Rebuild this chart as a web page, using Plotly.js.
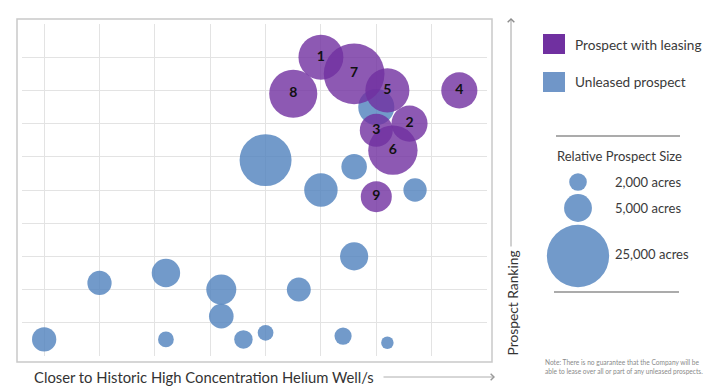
<!DOCTYPE html>
<html><head><meta charset="utf-8">
<script src="https://cdn.plot.ly/plotly-3.0.1.min.js"></script>
<style>html,body{margin:0;padding:0;background:#fff;}#chart{width:717px;height:391px;}</style>
</head><body><div id="chart"></div>
<script>
// ---- data ----
const leasedLabels = ['1','2','3','4','5','6','7','8','9'];
const leasedX = [5.0, 6.6, 6.0, 7.5, 6.2, 6.3, 5.6, 4.5, 6.0];
const leasedY = [9.0, 7.0, 6.8, 8.0, 8.0, 6.2, 8.5, 7.9, 4.8];
const leasedAcres = [13000, 8400, 7000, 8400, 12500, 15700, 23700, 14900, 6200];
const unleasedX = [6.0, 4.0, 5.6, 5.0, 6.7, 5.6, 1.0, 2.2, 3.2, 4.6, 3.2, 0.0, 2.2, 3.6, 4.0, 5.4, 6.2];
const unleasedY = [7.5, 5.9, 5.7, 5.0, 5.0, 3.0, 2.2, 2.5, 2.0, 2.0, 1.2, 0.5, 0.5, 0.5, 0.7, 0.6, 0.4];
const unleasedAcres = [8400, 17400, 4200, 7200, 3500, 5100, 3800, 5200, 5800, 3700, 3900, 3800, 1600, 2200, 1600, 1900, 1000];
const sizeKeyAcres = [2000, 5000, 25000];
const sizeKeyLabels = ['2,000 acres', '5,000 acres', '25,000 acres'];
const legendNames = ['Prospect with leasing', 'Unleased prospect'];
const xTitle = 'Closer to Historic High Concentration Helium Well/s';
const yTitle = 'Prospect Ranking';
const sizeTitle = 'Relative Prospect Size';
const noteText = 'Note: There is no guarantee that the Company will be<br>able to lease over all or part of any unleased prospects.';

// ---- styling ----
const PURPLE = 'rgba(112,48,160,0.8)';
const PURPLE_SOLID = '#7030A0';
const BLUE = 'rgba(79,129,189,0.8)';
const K = 0.197; // px radius per sqrt(acre)
const diam = a => 2 * K * Math.sqrt(a);
const FONT = 'Lato, "Open Sans", sans-serif';
const TXT = '#3a3a3a';

// pixel -> paper helpers (plot area: x 22..487, y 24..356)
const PL = 22, PR = 487, PT = 24, PB = 356;
const px = v => (v - PL) / (PR - PL);
const py = v => (PB - v) / (PB - PT);

const traces = [
  {type: 'scatter', mode: 'markers', x: unleasedX, y: unleasedY, name: legendNames[1],
   marker: {size: unleasedAcres.map(diam), sizemode: 'diameter', color: BLUE, opacity: 1, line: {width: 0}},
   hoverinfo: 'skip', showlegend: false},
  {type: 'scatter', mode: 'markers+text', x: leasedX, y: leasedY, name: legendNames[0],
   text: leasedLabels, textposition: 'middle center',
   textfont: {family: FONT, size: 14, color: '#111', weight: 'bold'},
   marker: {size: leasedAcres.map(diam), sizemode: 'diameter', color: PURPLE, opacity: 1, line: {width: 0}},
   hoverinfo: 'skip', showlegend: false}
];

const shapes = [
  // outer frame
  {type: 'rect', xref: 'paper', yref: 'paper', x0: px(17), x1: px(492), y0: py(362), y1: py(19),
   line: {color: '#c9c9c9', width: 1.5}, fillcolor: 'rgba(0,0,0,0)', layer: 'below'},
  // legend squares
  {type: 'rect', xref: 'paper', yref: 'paper', x0: px(543), x1: px(565), y0: py(54), y1: py(34),
   line: {width: 0}, fillcolor: PURPLE_SOLID},
  {type: 'rect', xref: 'paper', yref: 'paper', x0: px(543), x1: px(565), y0: py(92), y1: py(72),
   line: {width: 0}, fillcolor: 'rgb(112,150,200)'},
  // separator lines
  {type: 'line', xref: 'paper', yref: 'paper', x0: px(556), x1: px(680), y0: py(136), y1: py(136),
   line: {color: '#595959', width: 1.2}},
  {type: 'line', xref: 'paper', yref: 'paper', x0: px(554), x1: px(679), y0: py(292), y1: py(292),
   line: {color: '#595959', width: 1.2}}
];
const keyY = [182, 208, 256];
sizeKeyAcres.forEach((a, i) => {
  const r = K * Math.sqrt(a);
  shapes.push({type: 'circle', xref: 'paper', yref: 'paper', xsizemode: 'pixel', ysizemode: 'pixel',
    xanchor: px(578), yanchor: py(keyY[i]), x0: -r, x1: r, y0: -r, y1: r,
    line: {width: 0}, fillcolor: BLUE});
});

const ann = (x, y, text, opts) => Object.assign({xref: 'paper', yref: 'paper', x: px(x), y: py(y), text,
  showarrow: false, font: {family: FONT, size: 15, color: TXT}}, opts || {});

const annotations = [
  ann(32, 377, xTitle, {xanchor: 'left', yanchor: 'middle', font: {family: FONT, size: 14.8, color: '#333'}}),
  ann(512, 303.5, yTitle, {xanchor: 'center', yanchor: 'middle', textangle: -90, font: {family: FONT, size: 13.8, color: '#333'}}),
  ann(573, 45, legendNames[0], {xanchor: 'left', yanchor: 'middle', font: {family: FONT, size: 13.6, color: TXT}}),
  ann(573, 82, legendNames[1], {xanchor: 'left', yanchor: 'middle', font: {family: FONT, size: 13.6, color: TXT}}),
  ann(619, 156, sizeTitle, {xanchor: 'center', yanchor: 'middle', font: {family: FONT, size: 13, color: TXT}}),
  ann(543, 366.5, noteText, {xanchor: 'left', yanchor: 'middle', align: 'left', font: {family: FONT, size: 6.6, color: '#8a8a8a'}}),
  // arrows
  {xref: 'paper', yref: 'paper', x: px(511), y: py(18), ax: 0, ay: 230, text: '', showarrow: true,
   arrowhead: 4, arrowsize: 1.6, arrowwidth: 0.8, arrowcolor: '#8c8c8c'},
  {xref: 'paper', yref: 'paper', x: px(495), y: py(377), ax: -113, ay: 0, text: '', showarrow: true,
   arrowhead: 4, arrowsize: 1.6, arrowwidth: 0.8, arrowcolor: '#9a9a9a'}
];
sizeKeyLabels.forEach((t, i) => {
  annotations.push(ann(613, [182, 208, 254][i], t, {xanchor: 'left', yanchor: 'middle', font: {family: FONT, size: 13, color: TXT}}));
});

const layout = {
  width: 717, height: 391,
  margin: {l: PL, r: 717 - PR, t: PT, b: 391 - PB, pad: 0},
  paper_bgcolor: '#fff', plot_bgcolor: '#fff',
  xaxis: {range: [-0.4, 8], dtick: 1, tick0: 0, showgrid: true, gridcolor: '#e3e3e3', gridwidth: 1,
          zeroline: false, showline: false, showticklabels: false, ticks: '', fixedrange: true},
  yaxis: {range: [0, 10], dtick: 1, tick0: 0, showgrid: true, gridcolor: '#e3e3e3', gridwidth: 1,
          zeroline: false, showline: false, showticklabels: false, ticks: '', fixedrange: true},
  shapes, annotations, showlegend: false
};

Plotly.newPlot('chart', traces, layout, {staticPlot: true, displayModeBar: false});
</script>
</body></html>
